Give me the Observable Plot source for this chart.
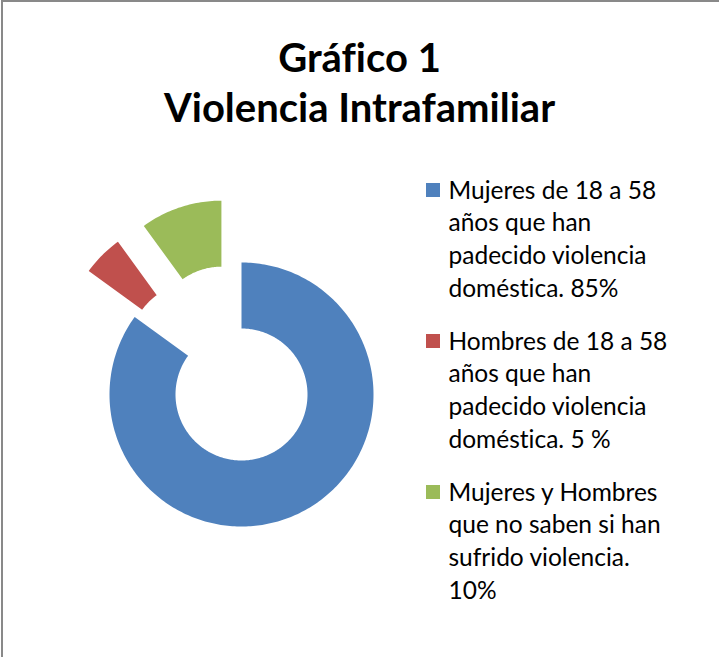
<!DOCTYPE html>
<html>
<head>
<meta charset="utf-8">
<script src="https://cdn.jsdelivr.net/npm/d3@7"></script>
<script src="https://cdn.jsdelivr.net/npm/@observablehq/plot@0.6"></script>
<style>
  html, body { margin: 0; padding: 0; background: #fff; }
  #wrap { position: relative; width: 719px; height: 657px; overflow: hidden; }
  #frame { position: absolute; left: 1px; top: 0; width: 740px; height: 700px;
           border-left: 2px solid #898989; border-top: 2px solid #898989; box-sizing: border-box; }
  #chart { position: absolute; left: 0; top: 0; }
  #chart svg text { font-variant-ligatures: none; font-feature-settings: "liga" 0, "clig" 0, "dlig" 0; }
</style>
</head>
<body>
<div id="wrap"><div id="frame"></div><div id="chart"></div></div>
<script>
// ---- data ----
const titleLines = ["Gráfico 1", "Violencia Intrafamiliar"];
const categories = [
  "Mujeres de 18 a 58 años que han padecido violencia doméstica. 85%",
  "Hombres de 18 a 58 años que han padecido violencia doméstica. 5 %",
  "Mujeres y Hombres que no saben si han sufrido violencia. 10%"
];
const legendLines = [
  ["Mujeres de 18 a 58", "años que han", "padecido violencia", "doméstica. 85%"],
  ["Hombres de 18 a 58", "años que han", "padecido violencia", "doméstica. 5 %"],
  ["Mujeres y Hombres", "que no saben si han", "sufrido violencia.", "10%"]
];
const values = [85, 5, 10];
const colors = ["#4F81BD", "#C0504D", "#9BBB59"];
const exploded = [false, true, true];

// ---- layout ----
const W = 719, H = 657;
const cx = 241, cy = 394, R = 132, r0 = 66, explodeDist = 65;

const total = d3.sum(values);
const pts = [];
let acc = 0;
values.forEach((v, i) => {
  const a0 = acc / total * 2 * Math.PI;
  const a1 = (acc + v) / total * 2 * Math.PI;
  acc += v;
  const mid = (a0 + a1) / 2;
  const ox = exploded[i] ? explodeDist * Math.sin(mid) : 0;
  const oy = exploded[i] ? -explodeDist * Math.cos(mid) : 0;
  const n = Math.max(4, Math.ceil((a1 - a0) * 180 / Math.PI));
  for (let k = 0; k <= n; k++) {
    const a = a0 + (a1 - a0) * k / n;
    pts.push({key: categories[i], color: colors[i], x: cx + ox + R * Math.sin(a), y: cy + oy - R * Math.cos(a)});
  }
  for (let k = n; k >= 0; k--) {
    const a = a0 + (a1 - a0) * k / n;
    pts.push({key: categories[i], color: colors[i], x: cx + ox + r0 * Math.sin(a), y: cy + oy - r0 * Math.cos(a)});
  }
});

// legend
const legX = 426, sq = 14, textX = 448, base0 = 198, lineGap = 32.7, itemGap = 151;
const legSquares = categories.map((c, i) => ({
  key: c, color: colors[i],
  x1: legX, x2: legX + sq, y1: base0 + i * itemGap - 15, y2: base0 + i * itemGap - 15 + sq
}));
const legText = [];
legendLines.forEach((lines, i) => lines.forEach((t, j) => {
  legText.push({t, x: textX, y: base0 + i * itemGap + j * lineGap});
}));
const titleText = titleLines.map((t, i) => ({t, x: 359, y: 71 + i * 50}));

const fs = 24.5, tfs = 40;
const plot = Plot.plot({
  width: W, height: H, margin: 0,
  style: {fontFamily: "Lato, sans-serif", background: "transparent", color: "#000"},
  x: {domain: [0, W], range: [0, W], axis: null},
  y: {domain: [0, H], range: [0, H], axis: null},
  color: {type: "identity"},
  marks: [
    Plot.line(pts, {x: "x", y: "y", z: "key", fill: "color", stroke: "none", curve: "linear-closed"}),
    Plot.rect(legSquares, {x1: "x1", x2: "x2", y1: "y1", y2: "y2", fill: "color"}),
    Plot.text(legText, {x: "x", y: "y", text: "t", textAnchor: "start", lineAnchor: "middle",
      dy: -0.32 * fs, fontSize: fs, fill: "#000"}),
    Plot.text(titleText, {x: "x", y: "y", text: "t", textAnchor: "middle", lineAnchor: "middle",
      dy: -0.32 * tfs, fontSize: tfs, fontWeight: "bold", fill: "#000"})
  ]
});
document.getElementById("chart").appendChild(plot);
</script>
</body>
</html>
